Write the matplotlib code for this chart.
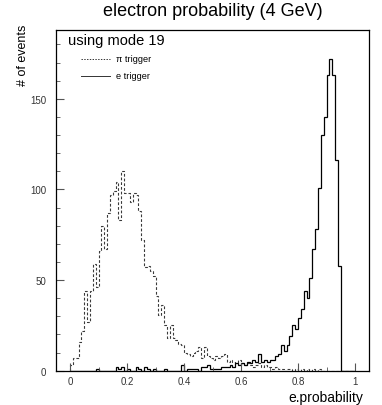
import numpy as np
import matplotlib
matplotlib.use('Agg')
import matplotlib.pyplot as plt
from matplotlib.ticker import MultipleLocator

plt.rcParams['font.family'] = ['Liberation Sans', 'DejaVu Sans']
plt.rcParams['lines.scale_dashes'] = False

# 100 bins of 0.01 in e.probability
bin_edges = np.linspace(0.0, 1.0, 101)

pi_trigger = [
    3, 7, 7, 16, 22, 44, 27, 44, 59, 46,
    66, 80, 67, 87, 97, 99, 104, 83, 110, 98,
    98, 93, 98, 97, 88, 72, 57, 58, 55, 52,
    41, 31, 36, 25, 18, 25, 18, 17, 15, 14,
    10, 9, 8, 10, 11, 13, 7, 13, 8, 7,
    6, 8, 7, 8, 9, 5, 6, 5, 4, 6,
    4, 3, 4, 3, 2, 3, 4, 2, 3, 2,
    2, 1, 2, 1, 1, 0, 1, 1, 0, 1,
    0, 1, 0, 1, 0, 1, 0, 1, 0, 0,
    0, 0, 0, 0, 0, 0, 0, 0, 0, 0,
]

e_trigger = [
    0, 0, 0, 0, 0, 0, 0, 0, 0, 1,
    0, 0, 0, 0, 0, 0, 2, 1, 2, 0,
    1, 0, 0, 2, 1, 0, 2, 1, 0, 1,
    0, 0, 0, 1, 0, 0, 0, 0, 0, 3,
    0, 1, 1, 1, 1, 0, 2, 2, 3, 1,
    1, 1, 1, 2, 2, 2, 3, 2, 4, 3,
    4, 3, 5, 4, 6, 5, 9, 5, 6, 5,
    6, 6, 8, 9, 14, 11, 14, 19, 25, 23,
    29, 34, 44, 40, 51, 67, 78, 101, 130, 140,
    163, 172, 163, 116, 58, 0, 0, 0, 0, 0,
]

title = 'electron probability (4 GeV)'
mode_label = 'using mode 19'
series_labels = ['\u03c0 trigger', 'e trigger']

fig = plt.figure(figsize=(3.82, 4.06), dpi=100)
ax = fig.add_axes([55.75 / 382, 34.3 / 406, 313.5 / 382, 340.7 / 406])

ax.stairs(pi_trigger, bin_edges, color='#3a3a3a', linewidth=0.8,
          linestyle=(0, (2.0, 1.4)))
ax.stairs(e_trigger, bin_edges, color='black', linewidth=0.9)

ax.set_xlim(-0.05, 1.05)
ax.set_ylim(0, 188)

ax.xaxis.set_major_locator(MultipleLocator(0.2))
ax.xaxis.set_minor_locator(MultipleLocator(0.1))
ax.yaxis.set_major_locator(MultipleLocator(50))
ax.yaxis.set_minor_locator(MultipleLocator(10))
ax.xaxis.set_major_formatter(matplotlib.ticker.FuncFormatter(lambda v, p: '%g' % round(v, 2)))
ax.tick_params(which='major', direction='in', length=6, width=0.8,
               labelsize=7, labelcolor='#333333', color='#555555')
ax.tick_params(axis='x', which='major', pad=4)
ax.tick_params(axis='y', which='major', pad=7)
ax.tick_params(which='minor', direction='in', length=3, width=0.6, color='#555555')
for s in ax.spines.values():
    s.set_linewidth(0.9)

ax.set_title(title, fontsize=13, pad=11)
ax.set_ylabel('# of events', loc='top', fontsize=9)
ax.yaxis.set_label_coords(-0.086, 1.018)
ax.set_xlabel('e.probability', loc='right', fontsize=10)
ax.xaxis.set_label_coords(0.98, -0.058)

# legend block drawn by hand in the upper-left corner
ax.text(0.039, 0.971, mode_label, transform=ax.transAxes, fontsize=10.5,
        ha='left', va='center')
ax.plot([0.081, 0.173], [0.915, 0.915], transform=ax.transAxes,
        color='#333333', linewidth=0.7, linestyle=(0, (1.0, 1.0)))
ax.text(0.192, 0.915, series_labels[0], transform=ax.transAxes, fontsize=6.6,
        ha='left', va='center')
ax.plot([0.081, 0.173], [0.865, 0.865], transform=ax.transAxes,
        color='#333333', linewidth=0.7)
ax.text(0.192, 0.865, series_labels[1], transform=ax.transAxes, fontsize=6.6,
        ha='left', va='center')

fig.savefig('out.png', dpi=100)
